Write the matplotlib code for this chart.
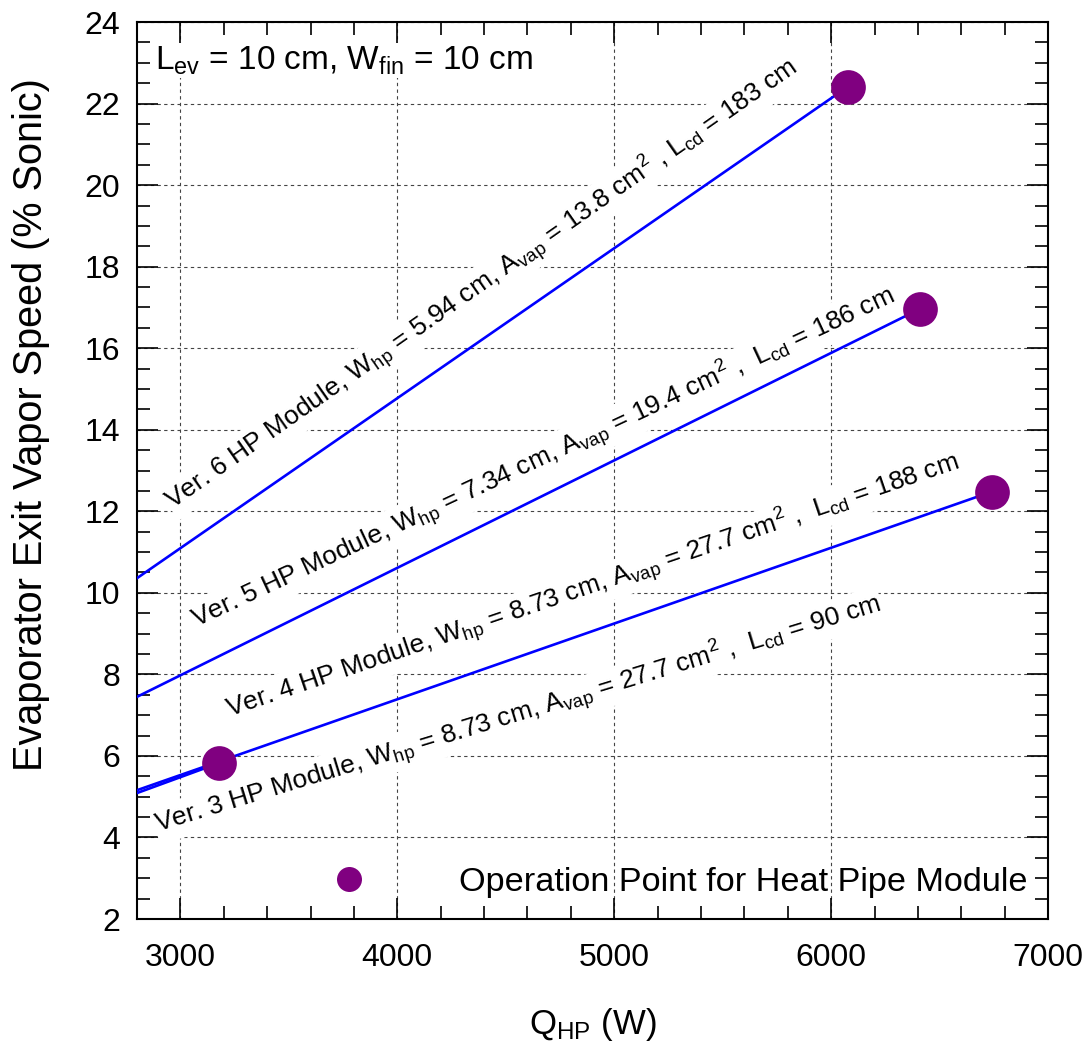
import matplotlib
matplotlib.use("Agg")
import matplotlib.pyplot as plt
from matplotlib.lines import Line2D
from matplotlib.ticker import MultipleLocator

plt.rcParams['font.family'] = ['Liberation Sans', 'DejaVu Sans']
plt.rcParams['mathtext.fontset'] = 'custom'
plt.rcParams['mathtext.rm'] = 'Liberation Sans'
plt.rcParams['mathtext.it'] = 'Liberation Sans'

# Datos: recta de cada módulo desde Q = 2800 W hasta su punto de operación
versiones = ['Ver. 6', 'Ver. 5', 'Ver. 4', 'Ver. 3']
q_inicio = [2800, 2800, 2800, 2800]
v_inicio = [10.36, 7.45, 5.16, 5.09]
q_operacion = [6076, 6408, 6740, 3180]
v_operacion = [22.41, 16.96, 12.48, 5.83]

etiquetas = [
    r'Ver. 6 HP Module, W$_{\rm hp}$ = 5.94 cm, A$_{\rm vap}$ = 13.8 cm$^{2}$ , L$_{\rm cd}$ = 183 cm',
    r'Ver. 5 HP Module, W$_{\rm hp}$ = 7.34 cm, A$_{\rm vap}$ = 19.4 cm$^{2}$ ,  L$_{\rm cd}$ = 186 cm',
    r'Ver. 4 HP Module, W$_{\rm hp}$ = 8.73 cm, A$_{\rm vap}$ = 27.7 cm$^{2}$ ,  L$_{\rm cd}$ = 188 cm',
    r'Ver. 3 HP Module, W$_{\rm hp}$ = 8.73 cm, A$_{\rm vap}$ = 27.7 cm$^{2}$ ,  L$_{\rm cd}$ = 90 cm',
]
# posición (inicio de la etiqueta) y ángulo en pantalla
etiqueta_x = [2966, 3076, 3229, 2897]
etiqueta_y = [12.03, 9.14, 6.93, 4.11]
etiqueta_ang = [35.0, 25.0, 18.8, 17.0]

fig = plt.figure(figsize=(10.9, 10.44), dpi=100)
ax = fig.add_axes([0.1257, 0.1197, 0.8358, 0.8592])

azul = '#0000ff'
morado = '#800080'

for i in range(len(versiones)):
    ax.plot([q_inicio[i], q_operacion[i]], [v_inicio[i], v_operacion[i]],
            color=azul, linewidth=1.9, zorder=3)
    ax.plot(q_operacion[i], v_operacion[i], 'o', color=morado,
            markersize=25, markeredgewidth=0, zorder=5)

for i in range(len(etiquetas)):
    ax.text(etiqueta_x[i], etiqueta_y[i], etiquetas[i], fontsize=19,
            rotation=etiqueta_ang[i], rotation_mode='anchor',
            ha='left', va='baseline', zorder=4,
            bbox=dict(facecolor='white', edgecolor='none', pad=1.0))

ax.text(0.02, 0.975, r'L$_{\rm ev}$ = 10 cm, W$_{\rm fin}$ = 10 cm',
        transform=ax.transAxes, fontsize=24, ha='left', va='top', zorder=4,
        bbox=dict(facecolor='white', edgecolor='none', pad=1.0))

marca = Line2D([], [], marker='o', linestyle='none', color=morado,
               markersize=18, markeredgewidth=0)
ax.legend([marca], ['Operation Point for Heat Pipe Module'], loc='lower right',
          frameon=False, fontsize=24.7, handletextpad=2.7,
          borderaxespad=0.2, handlelength=1.0)

ax.set_xlim(2800, 7000)
ax.set_ylim(2, 24)
ax.xaxis.set_major_locator(MultipleLocator(1000))
ax.xaxis.set_minor_locator(MultipleLocator(200))
ax.yaxis.set_major_locator(MultipleLocator(2))
ax.yaxis.set_minor_locator(MultipleLocator(0.5))
ax.set_xticks([3000, 4000, 5000, 6000, 7000])

ax.tick_params(which='both', direction='in', top=True, right=True,
               labelsize=23, width=1.2, colors='black')
ax.tick_params(which='major', length=15, pad=12)
ax.tick_params(axis='x', which='major', pad=17)
ax.tick_params(which='minor', length=9.5)
for lado in ax.spines.values():
    lado.set_linewidth(1.5)

ax.grid(True, which='major', color='#444444', linestyle=(0, (3, 3)),
        linewidth=0.8)
ax.set_axisbelow(True)

ax.set_xlabel(r'Q$_{\rm HP}$ (W)', fontsize=25, labelpad=24)
ax.set_ylabel('Evaporator Exit Vapor Speed (% Sonic)', fontsize=28.5)
ax.yaxis.set_label_coords(-0.096, 0.551)

fig.savefig('out.png', dpi=100)
